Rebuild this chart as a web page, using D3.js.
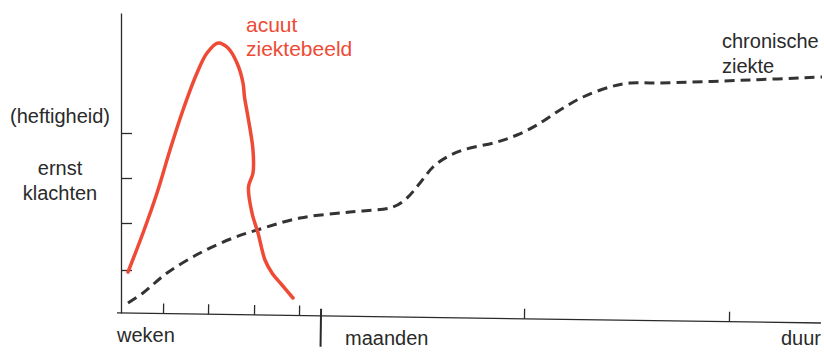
<!DOCTYPE html>
<html><head><meta charset="utf-8">
<script src="https://cdn.jsdelivr.net/npm/d3@7"></script>
<style>
html,body{margin:0;padding:0;background:#fff;}
svg{display:block;font-family:"Liberation Sans",Arial,sans-serif;}
</style></head>
<body>
<svg id="c" width="824" height="352"></svg>
<script>
// Data (x: time units, y: severity units)
const acuteX = [0.7, 2.2, 3.6, 4.9, 6.2, 7.6, 8.6, 9.7, 10.7, 11.6, 12.2, 12.35, 12.7, 13.2, 13.2, 12.75, 13.1, 13.7, 14.4, 15.1, 16.1, 17.2];
const acuteY = [4.1, 8.0, 12.0, 16.3, 20.3, 24.0, 26.0, 27.0, 26.5, 25.0, 23.0, 21.6, 19.6, 16.3, 14.0, 12.6, 10.0, 8.0, 5.3, 4.0, 2.8, 1.5];
const chronicX = [0.7, 2.2, 4.6, 7.9, 11.2, 13.6, 17.9, 22.9, 27.2, 28.6, 29.9, 31.2, 32.6, 34.2, 37.6, 39.6, 41.6, 43.9, 46.2, 48.9, 50.9, 53.6, 62.9, 70.1];
const chronicY = [1.0, 2.0, 4.0, 6.0, 7.5, 8.3, 9.5, 10.1, 10.6, 11.5, 13.0, 14.6, 15.6, 16.3, 17.1, 17.8, 18.8, 20.3, 21.6, 22.6, 23.0, 23.0, 23.3, 23.6];
const yTicks = [4.3, 9.0, 13.5, 18.0];
const xMinorTicks = [4.2, 8.7, 13.3, 17.8, 40.3, 60.8];
const xMajorTick = 20;
const yLabels = ["(heftigheid)", "ernst", "klachten"];
const xLabels = ["weken", "maanden", "duur"];
const acuteLabel = ["acuut", "ziektebeeld"];
const chronicLabel = ["chronische", "ziekte"];

const svg = d3.select("#c");
const x = d3.scaleLinear().domain([0, 70]).range([121, 821]);
const y = d3.scaleLinear().domain([0, 30]).range([313, 13]);
const ink = "#2a2a2a";
const red = "#ee4a35";

// Y axis
const gy = svg.append("g").attr("transform", `translate(${x(0)},0)`)
  .call(d3.axisLeft(y).tickValues(yTicks).tickSizeInner(-11).tickSizeOuter(0).tickFormat(""));
gy.selectAll("path,line").attr("stroke", ink).attr("stroke-width", 1.3);

// X axis (slightly tilted as in scan)
const tilt = Math.atan2(10, 700) * 180 / Math.PI;
const gx = svg.append("g").attr("transform", `translate(0,${y(0)}) rotate(${tilt},${x(0)},0)`);
gx.call(d3.axisBottom(x).tickValues(xMinorTicks).tickSizeInner(-10).tickSizeOuter(0).tickFormat(""));
gx.select(".domain").attr("d", `M${x(0) - 4},0H${x(70)}`);
gx.selectAll("path,line").attr("stroke", ink).attr("stroke-width", 1.3);
gx.append("line").attr("x1", x(xMajorTick)).attr("x2", x(xMajorTick))
  .attr("y1", -7).attr("y2", 31).attr("stroke", ink).attr("stroke-width", 2);

// Curves
const line = d3.line().x(d => x(d[0])).y(d => y(d[1])).curve(d3.curveCatmullRom.alpha(0.5));
svg.append("path").datum(chronicX.map((v, i) => [v, chronicY[i]]))
  .attr("d", line).attr("fill", "none").attr("stroke", "#333")
  .attr("stroke-width", 3).attr("stroke-dasharray", "10,6");
svg.append("path").datum(acuteX.map((v, i) => [v, acuteY[i]]))
  .attr("d", line).attr("fill", "none").attr("stroke", red)
  .attr("stroke-width", 3.5).attr("stroke-linecap", "round").attr("stroke-linejoin", "round");

// Text
const t = (s, px, py, opts = {}) => svg.append("text").text(s).attr("x", px).attr("y", py)
  .attr("font-size", opts.size || 20).attr("fill", opts.color || ink)
  .attr("text-anchor", opts.anchor || "start");
t(yLabels[0], 60, 123, {anchor: "middle"});
t(yLabels[1], 60, 175, {anchor: "middle"});
t(yLabels[2], 60, 200, {anchor: "middle"});
t(xLabels[0], 117, 342);
t(xLabels[1], 345, 345);
t(xLabels[2], 821, 345, {anchor: "end"});
t(acuteLabel[0], 246, 32, {size: 21, color: red});
t(acuteLabel[1], 246, 56, {size: 21, color: red});
t(chronicLabel[0], 722, 48);
t(chronicLabel[1], 722, 73);
</script>
</body></html>
